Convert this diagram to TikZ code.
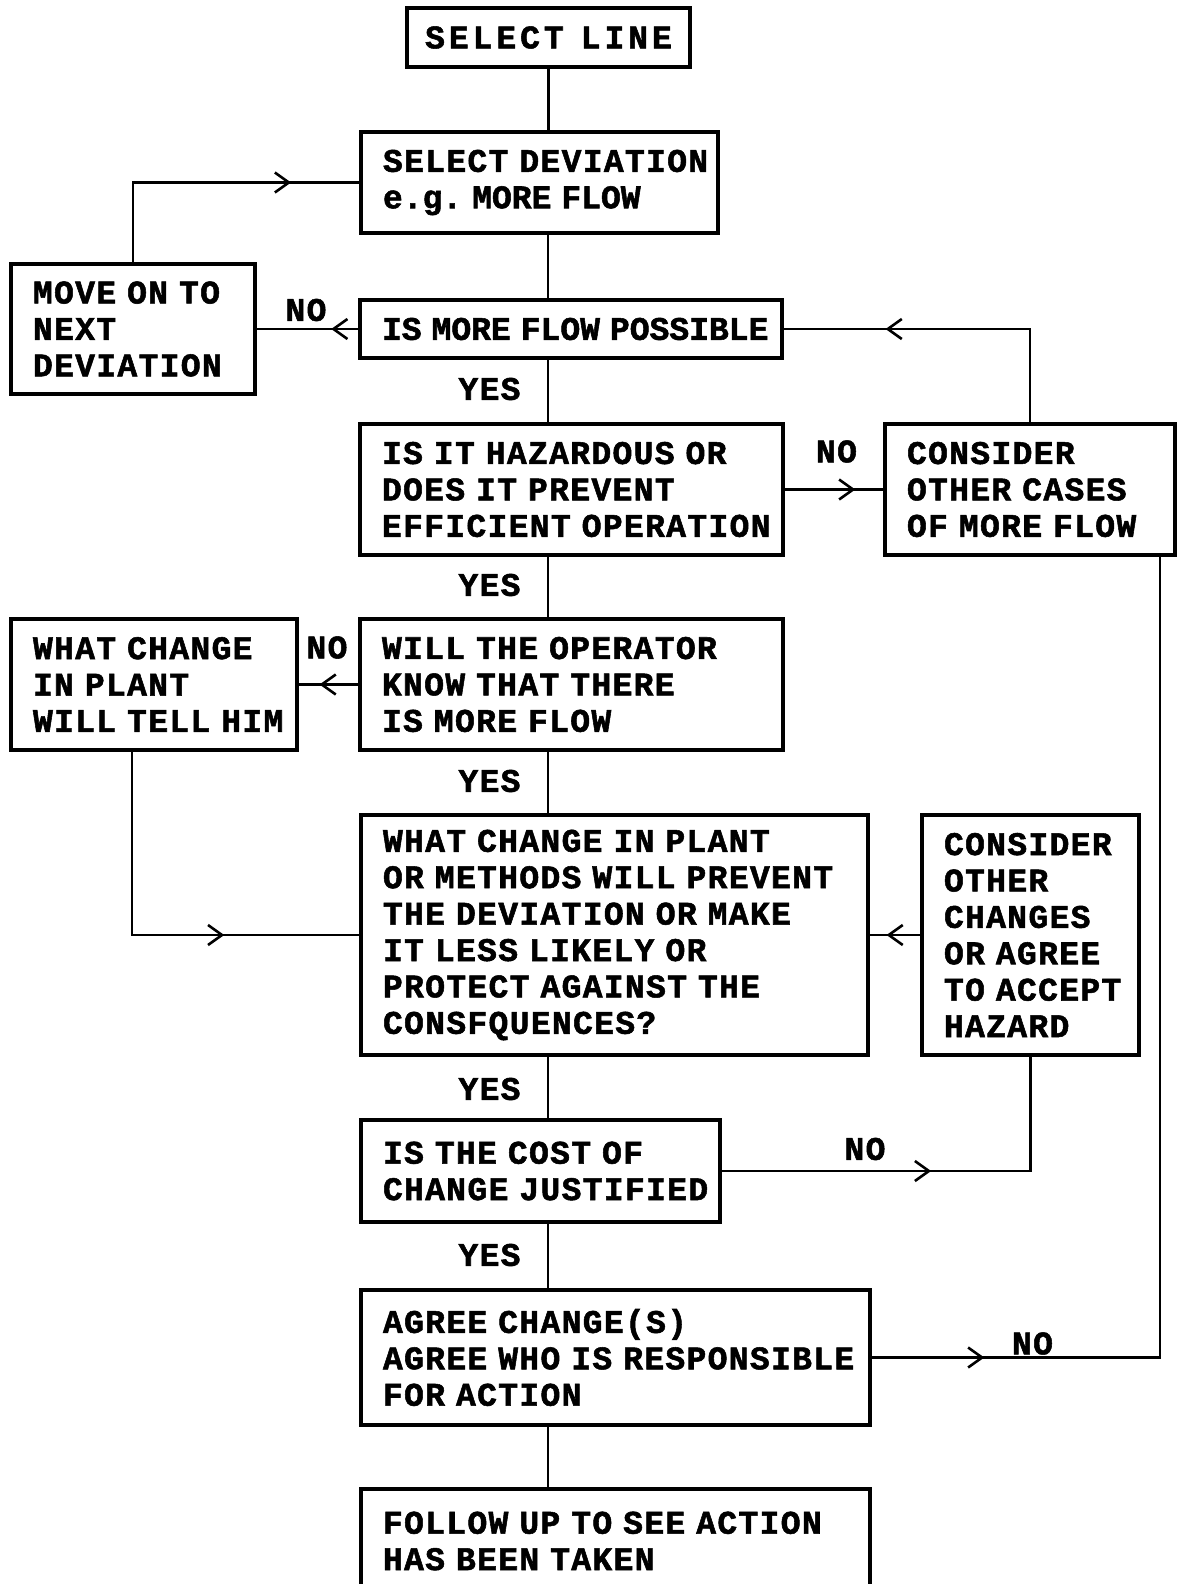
\documentclass[tikz,border=0pt]{standalone}
\usepackage{fontspec}
\newfontfamily\chartfont{Liberation Mono}[BoldFeatures={FakeBold=1.6}, LetterSpace=4]
\usetikzlibrary{arrows.meta,decorations.markings}

\tikzset{
  chart/.style={font={\chartfont\bfseries\fontsize{16.5pt}{18.2pt}\selectfont}},
  box/.style={chart, draw, line width=1.6pt, align=left, inner xsep=11pt, inner ysep=0pt},
  lbl/.style={chart, inner sep=0pt},
  link/.style={line width=1.3pt},
  arrowat/.style={postaction={decorate}, decoration={markings,
      mark=at position #1 with {\arrow{Straight Barb[length=7pt,width=10pt,line width=1.3pt]}}}},
}
% close-set lines: no extra tracking, narrow word spaces
\newcommand{\tsp}{\hspace{5pt}}
\newcommand{\tight}{\addfontfeatures{LetterSpace=0}}

\begin{document}
\begin{tikzpicture}[x=0.5pt, y=-0.5pt]
  \fill[white] (0,0) rectangle (1177,1584);
  \useasboundingbox (0,0) rectangle (1177,1584);

  \coordinate (spine) at (548,0);

  % boxes
  \node[box, align=center, inner xsep=6pt, text width=129.5pt, minimum height=29.5pt] (sel) at (548.5,37.5)
    {\addfontfeatures{LetterSpace=12}\mbox{SELECT\hspace{3pt} LINE}};
  \node[box, text width=156.5pt, minimum height=50.5pt] (seldev) at (539.5,182.5)
    {\mbox{SELECT DEVIATION}\\\mbox{\tight e.g.\tsp MORE\tsp FLOW}};
  \node[box, text width=100pt, minimum height=65pt] (moveon) at (133,329)
    {\mbox{MOVE ON TO}\\NEXT\\DEVIATION};
  \node[box, text width=189pt, minimum height=29pt] (possible) at (571,329)
    {\mbox{\tight IS\tsp MORE\tsp FLOW\tsp POSSIBLE}};
  \node[box, text width=189.5pt, minimum height=65.5pt] (hazard) at (571.5,489.5)
    {IS IT HAZARDOUS OR\\DOES IT PREVENT\\\mbox{EFFICIENT OPERATION}};
  \node[box, text width=123pt, minimum height=65.5pt] (cases) at (1030,489.5)
    {CONSIDER\\OTHER CASES\\\mbox{OF MORE FLOW}};
  \node[box, text width=121pt, minimum height=65.5pt] (tellhim) at (154,684.5)
    {WHAT CHANGE\\IN PLANT\\\mbox{WILL TELL HIM}};
  \node[box, text width=189.5pt, minimum height=65.5pt] (operator) at (571.5,684.5)
    {WILL THE OPERATOR\\KNOW THAT THERE\\IS MORE FLOW};
  \node[box, text width=231.5pt, minimum height=120pt] (prevent) at (614.5,935)
    {WHAT CHANGE IN PLANT\\\mbox{OR METHODS WILL PREVENT}\\THE DEVIATION OR MAKE\\IT LESS LIKELY OR\\PROTECT AGAINST THE\\CONSFQUENCES?};
  \node[box, text width=86.5pt, minimum height=120pt] (otherchg) at (1030.5,935)
    {CONSIDER\\OTHER\\CHANGES\\\mbox{OR AGREE}\\\mbox{TO ACCEPT}\\HAZARD};
  \node[box, text width=157.5pt, minimum height=51pt] (cost) at (540.5,1171)
    {IS THE COST OF\\\mbox{CHANGE JUSTIFIED}};
  \node[box, text width=232.5pt, minimum height=67.5pt] (agree) at (615.5,1357.5)
    {AGREE CHANGE(S)\\\mbox{AGREE WHO IS RESPONSIBLE}\\FOR ACTION};
  \node[box, text width=232.5pt, minimum height=52pt] (follow) at (615.5,1541)
    {\mbox{FOLLOW UP TO SEE ACTION}\\HAS BEEN TAKEN};

  % main downward chain
  \draw[link] (sel.south) -- (sel.south |- seldev.north);
  \draw[link] (seldev.south -| spine) -- (possible.north -| spine);
  \draw[link] (possible.south -| spine) -- (hazard.north -| spine);
  \draw[link] (hazard.south -| spine) -- (operator.north -| spine);
  \draw[link] (operator.south -| spine) -- (prevent.north -| spine);
  \draw[link] (prevent.south -| spine) -- (cost.north -| spine);
  \draw[link] (cost.south -| spine) -- (agree.north -| spine);
  \draw[link] (agree.south -| spine) -- (follow.north -| spine);

  % YES labels on the chain
  \node[lbl] (yes1) at (489.5,389) {YES};
  \node[lbl] (yes2) at (489.5,585) {YES};
  \node[lbl] (yes3) at (489.5,781) {YES};
  \node[lbl] (yes4) at (489.5,1089) {YES};
  \node[lbl] (yes5) at (489.5,1255) {YES};

  % side branches
  \draw[link, arrowat=0.777] (moveon.north) |- (seldev.west);
  \draw[link, arrowat=0.267] (possible.west) -- (moveon.east);
  \draw[link, arrowat=0.70] (cases.north) |- (possible.east);
  \draw[link, arrowat=0.716] (hazard.east) -- (cases.west);
  \draw[link, arrowat=0.65] (operator.west) -- (tellhim.east);
  \draw[link, arrowat=0.671] ([xshift=-11pt]tellhim.south) |- (prevent.west);
  \draw[link, arrowat=0.667] (otherchg.west) -- (prevent.east);
  \draw[link, arrowat=0.495] (cost.east) -| (otherchg.south);
  \draw[link, arrowat=0.1035] (agree.east) -| ([xshift=65pt]cases.south);

  % NO labels
  \node[lbl] (no1) at (306,310) {NO};
  \node[lbl] (no2) at (836.5,451.5) {NO};
  \node[lbl] (no3) at (327,647.5) {NO};
  \node[lbl] (no4) at (865,1149) {NO};
  \node[lbl] (no5) at (1032.5,1343.5) {NO};
\end{tikzpicture}
\end{document}
